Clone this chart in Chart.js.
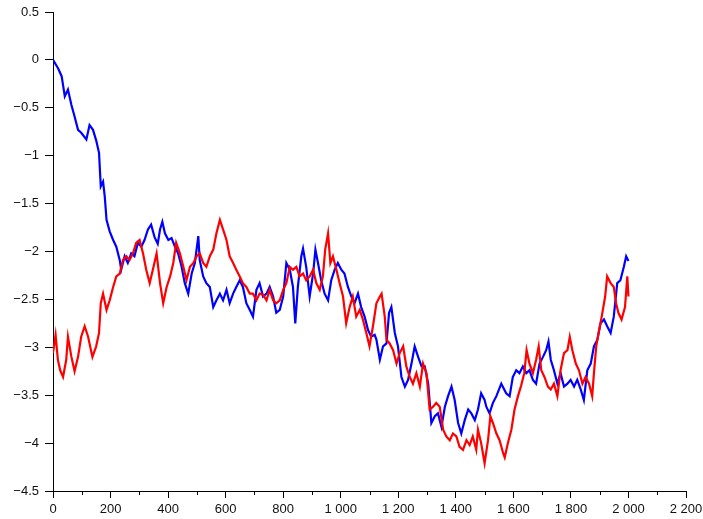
<!DOCTYPE html>
<html>
<head>
<meta charset="utf-8">
<script src="https://cdn.jsdelivr.net/npm/chart.js@4/dist/chart.umd.min.js"></script>
<style>
  body { margin: 0; background: #fff; }
  canvas { display: block; }
</style>
</head>
<body>
<canvas id="myChart" width="703" height="519"></canvas>
<script>
// values (x = step, y = value)
var blueX = [0, 18, 30, 41, 52, 64, 75, 87, 98, 116, 127, 139, 150, 160, 166, 174, 180, 186, 197, 209,
  220, 232, 237, 249, 260, 272, 283, 295, 307, 318, 330, 341, 353, 364, 372, 380, 389, 401, 412, 424,
  435, 447, 458, 470, 482, 493, 505, 510, 522, 533, 545, 557, 568, 580, 591, 603, 614, 626, 637, 649,
  660, 672, 684, 695, 707, 718, 730, 742, 753, 765, 776, 788, 800, 811, 823, 834, 842, 851, 863, 869,
  880, 892, 904, 912, 921, 932, 944, 956, 967, 979, 990, 1002, 1013, 1025, 1037, 1048, 1060, 1071, 1083, 1095,
  1106, 1118, 1124, 1136, 1147, 1159, 1168, 1176, 1188, 1199, 1211, 1223, 1234, 1246, 1257, 1269, 1281, 1292, 1304, 1315,
  1327, 1338, 1350, 1362, 1373, 1385, 1396, 1408, 1419, 1431, 1443, 1454, 1466, 1477, 1488, 1500, 1506, 1517, 1529, 1541,
  1558, 1575, 1587, 1598, 1610, 1621, 1633, 1645, 1656, 1668, 1679, 1691, 1703, 1714, 1722, 1730, 1741, 1753, 1764, 1776,
  1788, 1799, 1811, 1822, 1834, 1845, 1857, 1869, 1880, 1892, 1903, 1915, 1926, 1938, 1949, 1961, 1972, 1984, 1992, 2000]
var blueY = [0, -0.09, -0.17, -0.38, -0.31, -0.47, -0.59, -0.73, -0.76, -0.83, -0.68, -0.73, -0.84, -0.97, -1.32, -1.27, -1.43, -1.67, -1.79, -1.88,
  -1.95, -2.09, -2.19, -2.05, -2.12, -2.02, -2.05, -1.91, -1.95, -1.88, -1.77, -1.72, -1.85, -1.92, -1.77, -1.69, -1.81, -1.88, -1.86, -1.95,
  -2.02, -2.16, -2.33, -2.44, -2.23, -2.12, -1.84, -2.09, -2.26, -2.33, -2.37, -2.58, -2.51, -2.44, -2.51, -2.40, -2.54, -2.44, -2.37, -2.30,
  -2.37, -2.54, -2.61, -2.68, -2.40, -2.33, -2.47, -2.44, -2.37, -2.47, -2.64, -2.61, -2.47, -2.12, -2.19, -2.37, -2.75, -2.37, -2.05, -1.97,
  -2.16, -2.47, -2.23, -1.98, -2.12, -2.30, -2.44, -2.51, -2.30, -2.19, -2.12, -2.19, -2.23, -2.37, -2.47, -2.54, -2.44, -2.58, -2.68, -2.82,
  -2.89, -2.87, -2.92, -3.13, -2.99, -2.96, -2.64, -2.58, -2.85, -2.99, -3.31, -3.41, -3.34, -3.17, -2.99, -3.10, -3.20, -3.20, -3.38, -3.79,
  -3.72, -3.69, -3.83, -3.62, -3.51, -3.41, -3.55, -3.79, -3.90, -3.76, -3.65, -3.69, -3.76, -3.65, -3.48, -3.55, -3.62, -3.69, -3.58, -3.51,
  -3.38, -3.48, -3.51, -3.31, -3.24, -3.27, -3.20, -3.27, -3.24, -3.34, -3.38, -3.17, -3.10, -3.03, -2.94, -3.13, -3.24, -3.38, -3.27, -3.41,
  -3.38, -3.34, -3.41, -3.34, -3.44, -3.55, -3.24, -3.17, -2.99, -2.92, -2.75, -2.71, -2.78, -2.85, -2.68, -2.33, -2.30, -2.16, -2.05, -2.10]

var redX = [0, 9, 17, 25, 35, 46, 52, 64, 75, 87, 98, 110, 122, 137, 150, 160, 166, 174, 186, 197,
  209, 220, 232, 243, 255, 266, 278, 289, 301, 313, 324, 336, 347, 360, 372, 383, 395, 407, 418, 428,
  441, 453, 464, 476, 488, 499, 510, 522, 533, 545, 557, 568, 580, 591, 603, 614, 626, 637, 649, 660,
  672, 684, 695, 707, 718, 730, 742, 753, 765, 776, 788, 800, 811, 823, 834, 846, 857, 869, 880, 892,
  904, 915, 927, 938, 946, 956, 964, 973, 985, 996, 1008, 1019, 1031, 1042, 1054, 1066, 1077, 1089, 1100, 1112,
  1124, 1136, 1142, 1153, 1159, 1170, 1182, 1194, 1205, 1217, 1228, 1240, 1251, 1263, 1275, 1286, 1298, 1309, 1321, 1332,
  1344, 1356, 1367, 1379, 1390, 1402, 1413, 1425, 1437, 1448, 1459, 1471, 1477, 1488, 1500, 1512, 1520, 1529, 1541, 1552,
  1564, 1570, 1581, 1593, 1604, 1616, 1627, 1638, 1646, 1656, 1668, 1679, 1688, 1697, 1708, 1720, 1730, 1741, 1753, 1764,
  1776, 1788, 1796, 1805, 1817, 1828, 1840, 1851, 1863, 1874, 1880, 1888, 1898, 1907, 1919, 1926, 1938, 1949, 1957, 1965,
  1976, 1988, 1996, 2000]
var redY = [-3.06, -2.87, -3.13, -3.24, -3.31, -3.13, -2.89, -3.10, -3.25, -3.10, -2.89, -2.78, -2.89, -3.10, -2.99, -2.85, -2.54, -2.44, -2.61, -2.51,
  -2.37, -2.26, -2.23, -2.09, -2.05, -2.09, -2.02, -1.91, -1.88, -2.02, -2.19, -2.33, -2.19, -2.02, -2.33, -2.54, -2.37, -2.26, -2.12, -1.91,
  -2.02, -2.16, -2.30, -2.16, -2.12, -2.05, -2.02, -2.12, -2.16, -2.05, -1.98, -1.81, -1.67, -1.77, -1.88, -2.05, -2.12, -2.19, -2.26, -2.33,
  -2.37, -2.44, -2.44, -2.51, -2.44, -2.45, -2.51, -2.40, -2.51, -2.54, -2.51, -2.40, -2.33, -2.16, -2.19, -2.16, -2.26, -2.23, -2.30, -2.26,
  -2.19, -2.33, -2.40, -2.26, -1.98, -1.81, -2.12, -2.05, -2.19, -2.33, -2.47, -2.75, -2.58, -2.47, -2.68, -2.61, -2.71, -2.85, -2.99, -2.78,
  -2.54, -2.47, -2.44, -2.68, -2.92, -2.96, -3.03, -3.17, -3.06, -2.99, -3.20, -3.31, -3.38, -3.27, -3.41, -3.17, -3.27, -3.65, -3.62, -3.58,
  -3.62, -3.86, -3.93, -3.97, -3.90, -3.93, -4.04, -4.07, -3.97, -4.02, -3.93, -4.07, -3.86, -4.00, -4.21, -3.97, -3.72, -3.79, -3.90, -3.97,
  -4.10, -4.15, -4.00, -3.86, -3.65, -3.51, -3.40, -3.27, -3.03, -3.17, -3.27, -3.13, -2.99, -3.24, -3.31, -3.41, -3.44, -3.38, -3.51, -3.24,
  -3.06, -3.03, -2.89, -3.03, -3.17, -3.24, -3.38, -3.31, -3.38, -3.51, -3.27, -2.99, -2.82, -2.68, -2.47, -2.26, -2.33, -2.37, -2.54, -2.64,
  -2.71, -2.58, -2.26, -2.47]

var xTicksMinor = [100, 300, 500, 700, 900, 1100, 1300, 1500, 1700, 1900, 2100]

function toPoints(xs, ys) {
  var pts = []
  for (var i = 0; i < xs.length; i++) pts.push({ x: xs[i], y: ys[i] })
  return pts
}

// short ticks at the odd hundreds on the x axis
var minorTicks = {
  id: 'minorTicks',
  afterDraw: function (chart) {
    var c = chart.ctx, sx = chart.scales.x, y0 = chart.chartArea.bottom
    c.save()
    c.strokeStyle = '#000'
    c.lineWidth = 1
    xTicksMinor.forEach(function (v) {
      var px = Math.round(sx.getPixelForValue(v)) + 0.5
      c.beginPath()
      c.moveTo(px, y0)
      c.lineTo(px, y0 + 4)
      c.stroke()
    })
    c.restore()
  }
}

var ctx = document.getElementById('myChart').getContext('2d')
var myChart = new Chart(ctx, {
  type: 'line',
  data: {
    datasets: [{
      data: toPoints(redX, redY),
      borderColor: '#ff0000',
      borderWidth: 2.2,
      pointRadius: 0,
      tension: 0
    }, {
      data: toPoints(blueX, blueY),
      borderColor: '#0000ff',
      borderWidth: 2.2,
      pointRadius: 0,
      tension: 0
    }]
  },
  options: {
    responsive: false,
    animation: false,
    layout: { padding: { top: 12, right: 17, left: 0, bottom: 0 } },
    plugins: { legend: { display: false }, tooltip: { enabled: false } },
    scales: {
      x: {
        type: 'linear',
        min: 0, max: 2200,
        grid: { drawOnChartArea: false, tickLength: 7, tickColor: '#000' },
        border: { color: '#000', width: 1 },
        ticks: {
          stepSize: 200,
          padding: 4,
          color: '#111',
          font: { family: 'Liberation Sans', size: 13 },
          maxRotation: 0,
          callback: function (v) { return String(v).replace(/\B(?=(\d{3})+(?!\d))/g, ' ') }
        },
        afterFit: function (s) { s.height = 28; s.paddingLeft = 0; s.paddingRight = 0 }
      },
      y: {
        min: -4.5, max: 0.5,
        grid: { drawOnChartArea: false, tickLength: 8, tickColor: '#000' },
        border: { color: '#000', width: 1 },
        ticks: {
          stepSize: 0.5,
          padding: 6,
          color: '#111',
          font: { family: 'Liberation Sans', size: 13 },
          callback: function (v) { return String(v).replace('-', '\u2212') }
        },
        afterFit: function (s) { s.width = 53; s.paddingTop = 0; s.paddingBottom = 0 }
      }
    }
  },
  plugins: [minorTicks]
})
</script>
</body>
</html>
